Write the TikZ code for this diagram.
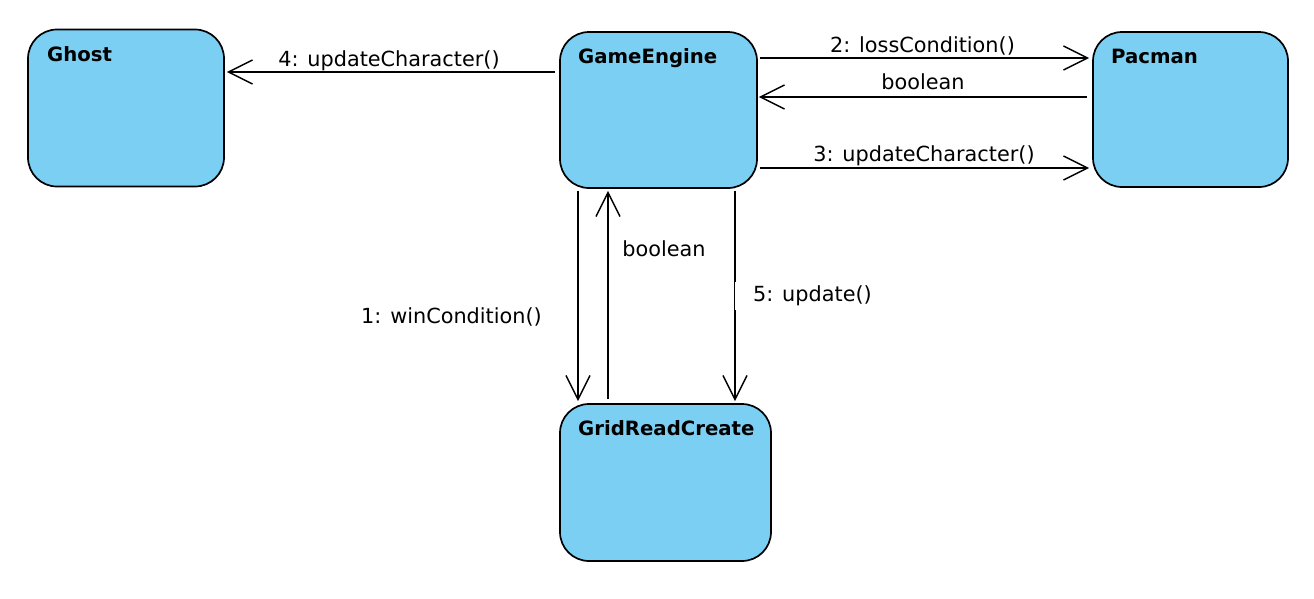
\documentclass[tikz,border=0pt]{standalone}
\usepackage{fontspec}
\setmainfont{DejaVu Sans}
\usetikzlibrary{arrows.meta}
\definecolor{boxblue}{HTML}{7ACFF3}
\begin{document}
\begin{tikzpicture}[x=1pt,y=-1pt,
  box/.style={draw=black, line width=1.7pt, fill=boxblue, rounded corners=29pt, inner sep=0pt},
  ttl/.style={font=\fontsize{19.7}{22}\selectfont\bfseries, anchor=base west, inner sep=0pt},
  msg/.style={font=\fontsize{20.8}{24}\selectfont, anchor=base, inner sep=0pt},
  arr/.style={line width=1.5pt, -{Straight Barb[length=24pt,width=24pt,line width=1.5pt]}}]
\useasboundingbox (0,0) rectangle (1314,598);
\node[box, minimum width=196pt, minimum height=157pt] (ghost) at (126,108) {};
\node[box, minimum width=197pt, minimum height=156pt] (ge) at (658.5,110) {};
\node[box, minimum width=195pt, minimum height=155pt] (pac) at (1190.5,109.5) {};
\node[box, minimum width=211pt, minimum height=157pt] (grid) at (665.5,482.5) {};
\node[ttl] (tghost) at (47,61.7) {Ghost};
\node[ttl] (tge) at (578,63.3) {GameEngine};
\node[ttl] (tpac) at (1111,63.3) {Pacman};
\node[ttl] (tgrid) at (578,435) {GridReadCreate};
% horizontal messages
\draw[arr, shorten <=4pt, shorten >=2pt] (ge.west |- 0,72) -- (ghost.east |- 0,72);
\node[msg] (l4) at (389,66) {4: updateCharacter()};
\draw[arr, shorten <=2pt, shorten >=3pt] (ge.east |- 0,58) -- (pac.west |- 0,58);
\node[msg] (l2) at (922.5,52) {2: lossCondition()};
\draw[arr, shorten <=5pt, shorten >=1pt] (pac.west |- 0,97) -- (ge.east |- 0,97);
\node[msg] (lb1) at (923,89.3) {boolean};
\draw[arr, shorten <=2pt, shorten >=3pt] (ge.east |- 0,168) -- (pac.west |- 0,168);
\node[msg] (l3) at (924,161.7) {3: updateCharacter()};
% vertical messages
\draw[arr, shorten <=2pt, shorten >=2pt] (578,0 |- ge.south) -- (578,0 |- grid.north);
\node[msg] (l1) at (451.5,323) {1: winCondition()};
\draw[arr, shorten <=4pt, shorten >=2pt] (608,0 |- grid.north) -- (608,0 |- ge.south);
\node[msg] (lb2) at (664,256) {boolean};
\draw[arr, shorten <=2pt, shorten >=2pt] (735,0 |- ge.south) -- (735,0 |- grid.north);
\node[msg, anchor=base west, fill=white, inner xsep=18pt, inner ysep=4pt] (l5) at (735,301.7) {5: update()};
\end{tikzpicture}
\end{document}
